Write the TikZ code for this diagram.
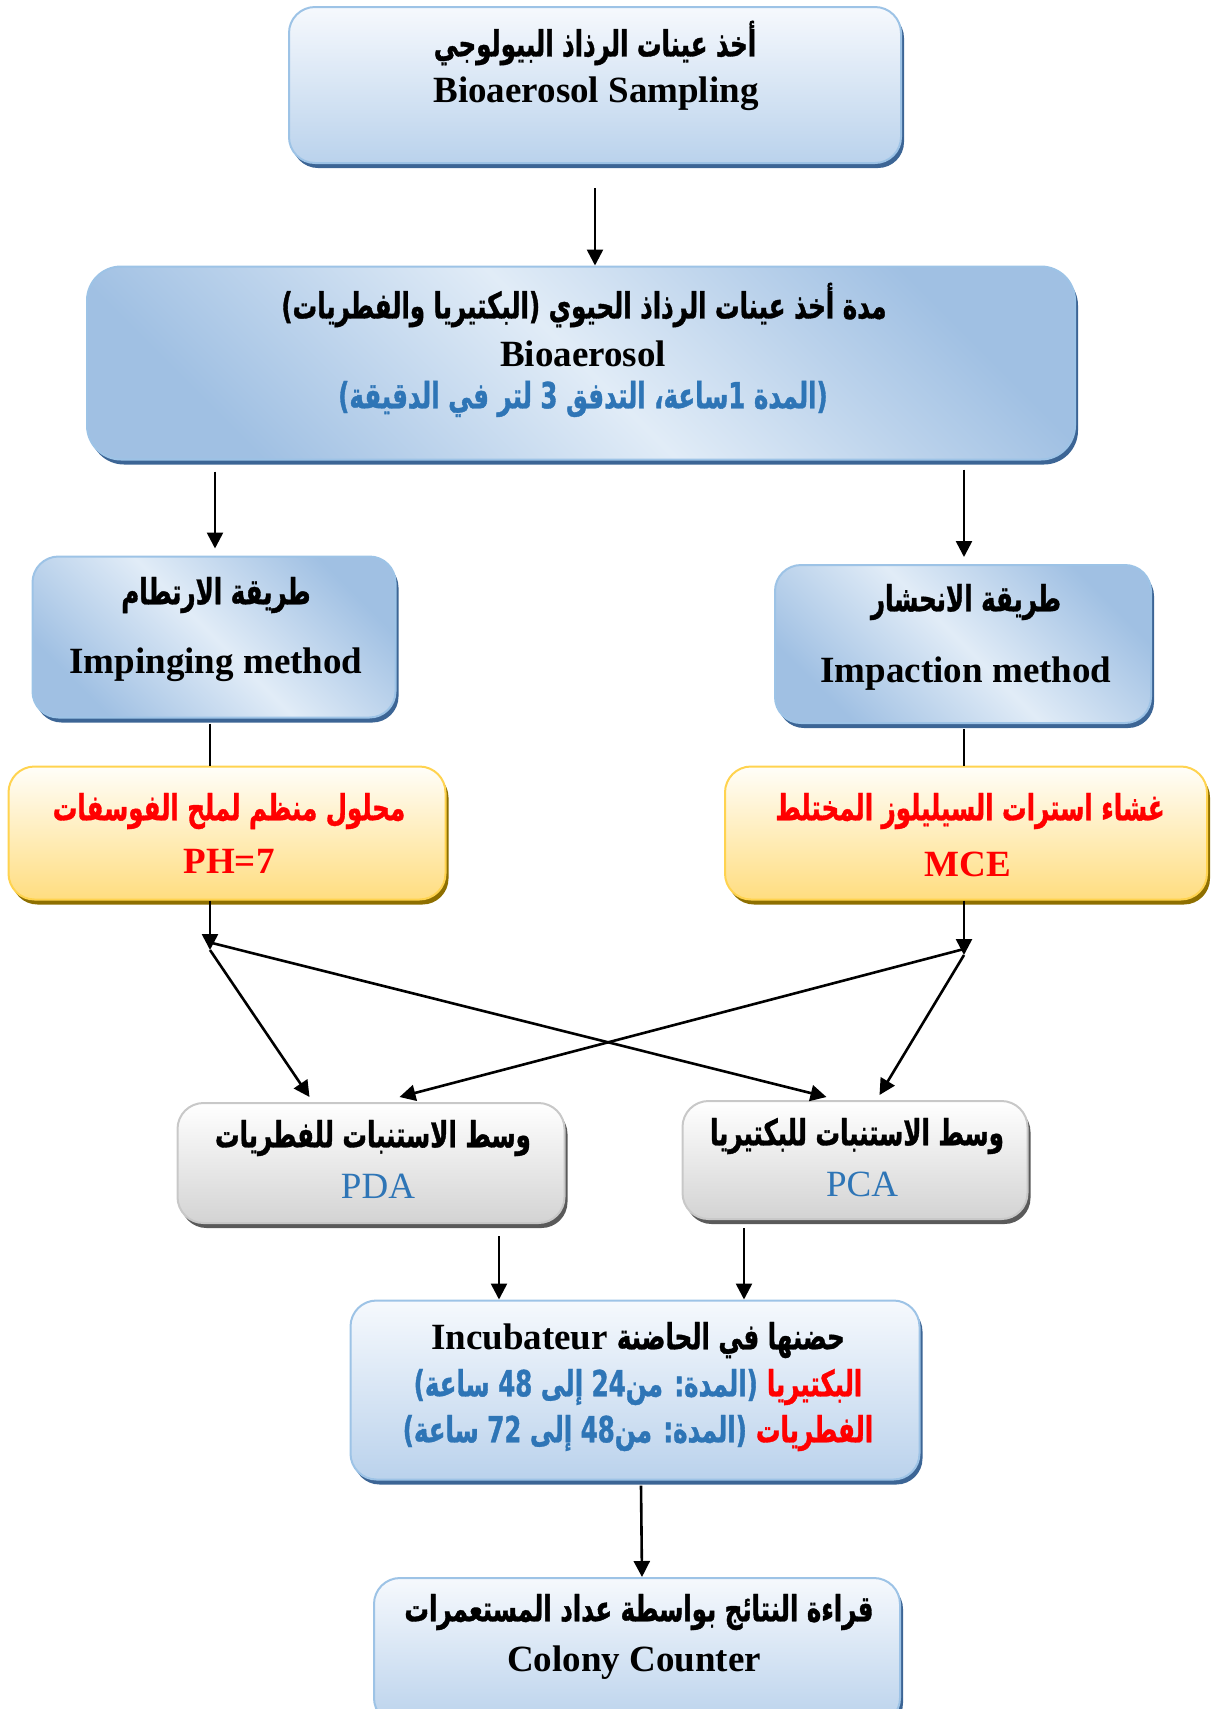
\documentclass[tikz,border=0pt]{standalone}
\usepackage{fontspec}
\usetikzlibrary{arrows.meta,shadows,calc}
\setmainfont{Liberation Serif}
\newfontfamily\arfont[Script=Arabic,FakeStretch=0.68,FakeBold=1]{DejaVu Sans}
\TeXXeTstate=1
\newcommand{\artext}[1]{{\arfont\bfseries\beginR #1\endR}}

\definecolor{bborder}{HTML}{9DC3E6}
\definecolor{bshadow}{HTML}{3C6595}
\definecolor{bdark}{HTML}{A0C0E3}
\definecolor{blight}{HTML}{E1ECF7}
\definecolor{btop}{HTML}{F6F9FD}
\definecolor{bbottom}{HTML}{BAD2EC}
\definecolor{ytop}{HTML}{FFFEF9}
\definecolor{ybottom}{HTML}{FFDD80}
\definecolor{yborder}{HTML}{FFD34F}
\definecolor{yshadow}{HTML}{8E6F00}
\definecolor{gtop}{HTML}{FFFFFF}
\definecolor{gbottom}{HTML}{D3D3D3}
\definecolor{gborder}{HTML}{C8C8C8}
\definecolor{gshadow}{HTML}{5A5A5A}
\definecolor{tblue}{HTML}{2E75B6}
\definecolor{tred}{HTML}{FF0000}

\tikzset{
  boxbase/.style={rounded corners=26pt, line width=2pt, inner sep=0pt},
  bluevert/.style={boxbase, draw=bborder, top color=btop, bottom color=bbottom,
    drop shadow={shadow xshift=3pt, shadow yshift=-5pt, fill=bshadow, opacity=1}},
  bluediag/.style={boxbase, draw=bborder, top color=bdark, bottom color=bdark,
    middle color=blight, shading angle=-45,
    drop shadow={shadow xshift=3pt, shadow yshift=-5pt, fill=bshadow, opacity=1}},
  yellowbox/.style={boxbase, draw=yborder, top color=ytop, bottom color=ybottom,
    drop shadow={shadow xshift=3pt, shadow yshift=-5pt, fill=yshadow, opacity=1}},
  graybox/.style={boxbase, draw=gborder, top color=gtop, bottom color=gbottom,
    drop shadow={shadow xshift=3pt, shadow yshift=-5pt, fill=gshadow, opacity=1}},
  lbl/.style={inner sep=0pt, font=\fontsize{37}{40}\selectfont},
  blbl/.style={inner sep=0pt, font=\fontsize{37}{40}\selectfont\bfseries},
  arlbl/.style={inner sep=0pt, font=\fontsize{36}{40}\selectfont},
  arr/.style={line width=2.6pt, -{Triangle[length=16pt,width=16pt]}},
  conn/.style={line width=2.6pt},
}

\begin{document}
\begin{tikzpicture}[x=1pt,y=-1pt]
\useasboundingbox (0,0) rectangle (1211,1709);

% boxes
\node[bluevert, minimum width=612pt, minimum height=156pt] (b1) at (595,85) {};
\node[bluediag, rounded corners=34pt, minimum width=988pt, minimum height=193pt] (b2) at (581,363) {};
\node[bluediag, minimum width=363pt, minimum height=161pt] (imp1) at (214,637) {};
\node[bluediag, minimum width=376pt, minimum height=158pt] (imp2) at (963,644) {};
\node[yellowbox, minimum width=437pt, minimum height=133pt] (y1) at (227,833) {};
\node[yellowbox, minimum width=482pt, minimum height=133pt] (y2) at (966,833) {};
\node[graybox, minimum width=387pt, minimum height=120pt] (pda) at (371,1163) {};
\node[graybox, minimum width=345pt, minimum height=118pt] (pca) at (855,1160) {};
\node[bluevert, minimum width=569pt, minimum height=179pt] (inc) at (635,1390) {};
\node[bluevert, minimum width=526pt, minimum height=146pt] (col) at (637,1651) {};

% texts
\node[arlbl] (b1a) at (595,43) {\artext{أخذ عينات الرذاذ البيولوجي}};
\node[blbl] (b1e) at (596,94) {Bioaerosol Sampling};

\node[arlbl] (b2a) at (584,305) {\artext{مدة أخذ عينات الرذاذ الحيوي (البكتيريا والفطريات)}};
\node[blbl] (b2e) at (583,354) {Bioaerosol};
\node[arlbl, text=tblue] (b2b) at (583,399) {\artext{(المدة 1ساعة، التدفق 3 لتر في الدقيقة)}};

\node[arlbl] (i1a) at (216,595) {\artext{طريقة الارتطام}};
\node[blbl] (i1e) at (216,665) {Impinging method};
\node[arlbl] (i2a) at (966,602) {\artext{طريقة الانحشار}};
\node[blbl] (i2e) at (966,674) {Impaction method};

\node[arlbl, text=tred] (y1a) at (229,811) {\artext{محلول منظم لملح الفوسفات}};
\node[blbl, text=tred] (y1e) at (229,861) {PH=7};
\node[arlbl, text=tred] (y2a) at (970,811) {\artext{غشاء استرات السيليلوز المختلط}};
\node[blbl, text=tred] (y2e) at (968,864) {MCE};

\node[arlbl] (pdaa) at (373,1138) {\artext{وسط الاستنبات للفطريات}};
\node[lbl, text=tblue] (pdae) at (378,1186) {PDA};
\node[arlbl] (pcaa) at (857,1136) {\artext{وسط الاستنبات للبكتيريا}};
\node[lbl, text=tblue] (pcae) at (862,1184) {PCA};

\node[arlbl] (inca) at (638,1340) {{\rmfamily\bfseries\fontsize{37}{40}\selectfont Incubateur}\ \artext{حضنها في الحاضنة}};
\node[arlbl] (incb) at (638,1387) {\textcolor{tblue}{\artext{(المدة: من24 إلى 48 ساعة)}}\ \textcolor{tred}{\artext{البكتيريا}}};
\node[arlbl] (incc) at (638,1433) {\textcolor{tblue}{\artext{(المدة: من48 إلى 72 ساعة)}}\ \textcolor{tred}{\artext{الفطريات}}};

\node[arlbl] (cola) at (639,1612) {\artext{قراءة النتائج بواسطة عداد المستعمرات}};
\node[blbl] (cole) at (634,1663) {Colony Counter};

% connectors
\draw[arr] ($(b1.south)+(0,24)$) -- (b2.north -| b1.south);
\draw[arr] ($(b2.south -| imp1.north)+(1,11)$) -- ($(imp1.north)+(1,-7)$);
\draw[arr] ($(b2.south -| imp2.north)+(1,9)$) -- ($(imp2.north)+(1,-7)$);
\draw[conn] ($(imp1.south)+(-4,5)$) -- ($(y1.north -| imp1.south)+(-4,0)$);
\draw[conn] ($(imp2.south)+(1,5)$) -- ($(y2.north -| imp2.south)+(1,0)$);

\coordinate (jl) at (210,950);
\coordinate (jr) at (964,955);
\draw[arr] (y1.south -| jl) -- (jl);
\draw[arr] (y2.south -| jr) -- (jr);
\draw[arr] (jl) -- ($(pda.north west)+(133,-5)$);
\draw[arr] ($(jl)+(2,-7)$) -- ($(pca.north west)+(145,-3)$);
\draw[arr] ($(jr)+(0,-6)$) -- ($(pda.north west)+(223,-5)$);
\draw[arr] (jr) -- ($(pca.north west)+(198,-5)$);

\coordinate (pdaout) at ($(pda.south)+(128,12)$);
\coordinate (pcaout) at ($(pca.south)+(-111,8)$);
\draw[arr] (pdaout) -- (pdaout |- inc.north);
\draw[arr] (pcaout) -- (pcaout |- inc.north);
\draw[arr] ($(inc.south)+(6,5)$) -- ($(col.north)+(5,0)$);
\end{tikzpicture}
\end{document}
